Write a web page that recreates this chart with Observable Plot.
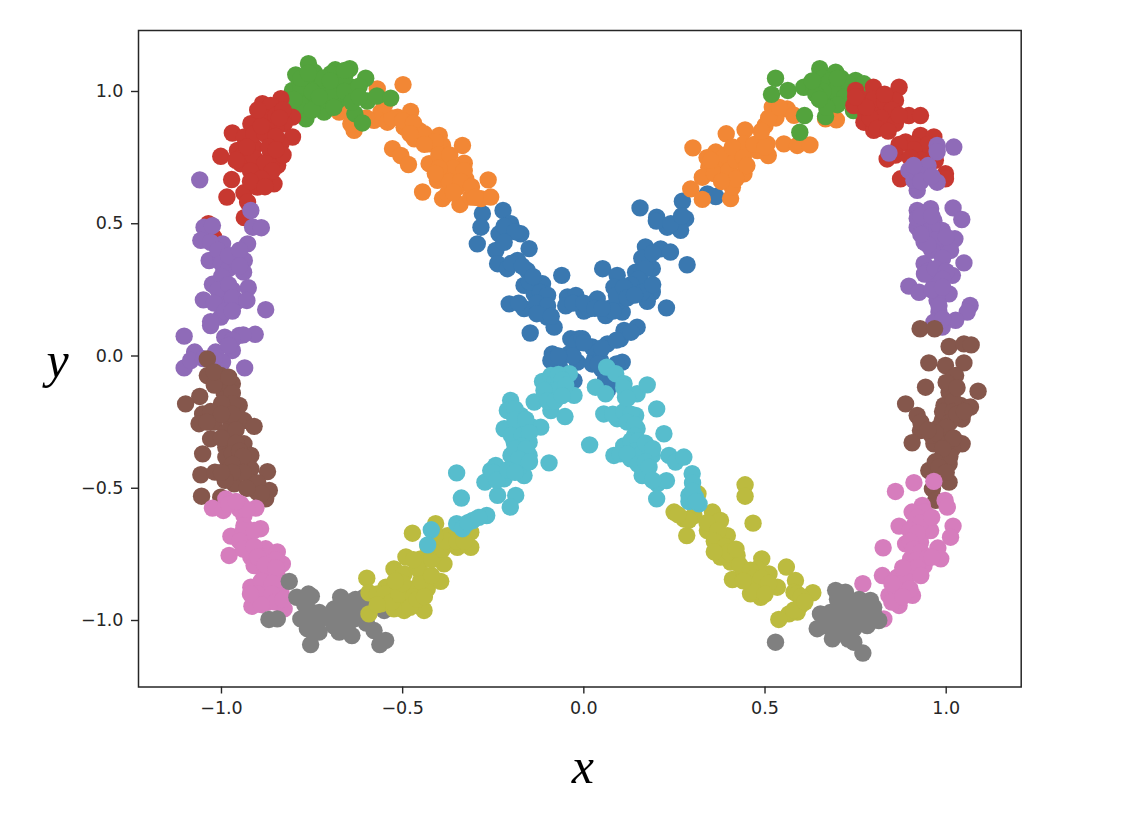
<!DOCTYPE html>
<html><head><meta charset="utf-8">
<script src="https://cdn.jsdelivr.net/npm/d3@7"></script>
<script src="https://cdn.jsdelivr.net/npm/@observablehq/plot@0.6"></script>
<style>html,body{margin:0;padding:0;background:#fff}svg{display:block}</style>
</head><body><div id="chart"></div>
<script>
const xTicks=[-1,-0.5,0,0.5,1];
const yTicks=[-1,-0.5,0,0.5,1];
const seriesColors=["#3a78b0","#f28735","#53a33d","#c73830","#8f6bb8","#85574c","#d67dbd","#808080","#bcbb3f","#57bdcd"];
const blue=[[-.280,.538],[-.284,.487],[-.294,.424],[-.223,.550],[-.202,.500],[-.174,.462],[-.234,.462],[-.151,.406],[-.243,.399],[-.183,.361],[-.238,.349],[-.211,.330],[-.156,.323],[-.165,.267],[-.114,.273],[-.061,.305],[-.137,.235],[-.206,.197],[-.165,.179],[-.114,.185],[-.045,.223],[-.022,.229],[-.101,.147],[-.082,.109],[-.148,.087],[-.036,.065],[-.013,.065],[-.087,.008],[-.041,.008],[0,.17],[-.091,-.017],[-.068,-.036],[-.027,-.093],[-.018,-.023],[-.02,.05],[.03,-.01],[-.03,0],[.05,-.05],[.341,.613],[.364,.603],[.272,.585],[.155,.560],[.201,.525],[.281,.519],[.258,.500],[.267,.475],[.230,.487],[.170,.412],[.212,.405],[.239,.393],[.285,.345],[.170,.361],[.189,.330],[.143,.317],[.052,.330],[.092,.305],[.157,.285],[.083,.260],[.189,.242],[.129,.248],[.175,.207],[.037,.216],[.228,.182],[.106,.216],[.106,.166],[.060,.153],[.014,.178],[.147,.109],[.111,.097],[.101,.065],[.065,.046],[.023,.034],[-.004,.065],[.106,-.023],[.023,-.030],[.046,-.017],[.069,-.086],[.065,-.130],
[-.22,.49],[-.19,.47],[-.22,.43],[-.20,.35],[-.17,.34],[-.15,.28],[-.14,.30],[-.12,.24],[-.10,.23],[-.13,.20],[-.10,.19],[-.13,.16],[-.09,.15],[-.18,.20],[-.05,.19],[-.03,.20],[0,.20],[.03,.18],[.07,.18],[.09,.20],[.09,.23],[.16,.37],[.17,.33],[.15,.29],[.13,.27],[.11,.26],[.12,.22],[.08,.17],[.05,.18],[.16,.24],[.14,.23],[.19,.27],[.19,.39],[.20,.51],[.24,.50],[.27,.53],[0,.05],[.05,.03],[.09,.06],[.04,-.03],[.07,-.05],[.09,-.03],[.06,-.09],[.07,-.11],[-.07,0],[.13,.09]];
const orange=[[-.499,1.026],[-.570,1.010],[-.675,.922],[-.634,.853],[-.643,.878],[-.579,.891],[-.560,.922],[-.542,.884],[-.514,.903],[-.478,.925],[-.496,.865],[-.455,.853],[-.468,.821],[-.427,.802],[-.399,.834],[-.390,.796],[-.335,.796],[-.528,.784],[-.505,.758],[-.484,.724],[-.427,.727],[-.381,.733],[-.330,.729],[-.358,.695],[-.326,.670],[-.264,.666],[-.404,.664],[-.445,.620],[-.390,.595],[-.376,.614],[-.342,.573],[-.312,.601],[-.284,.595],[-.257,.601],[-.349,.639],[-.386,.689],[.301,.787],[.295,.632],[.405,.595],[.393,.840],[.445,.855],[.364,.771],[.345,.714],[.327,.676],[.387,.727],[.396,.676],[.442,.689],[.410,.638],[.433,.764],[.442,.802],[.479,.777],[.509,.758],[.506,.802],[.552,.802],[.589,.796],[.624,.798],[.500,.871],[.520,.941],[.561,.934],[.667,.897],[.697,.893],[.327,.592],
[-.53,.90],[-.50,.89],[-.47,.88],[-.44,.84],[-.41,.81],[-.48,.84],[-.44,.80],[-.40,.76],[-.37,.76],[-.36,.71],[-.40,.71],[-.33,.70],[-.37,.66],[-.34,.66],[-.31,.64],[-.30,.60],[-.36,.62],[-.41,.69],[-.60,.90],[-.55,.95],
[.34,.75],[.37,.72],[.36,.69],[.39,.76],[.40,.70],[.42,.74],[.41,.79],[.44,.75],[.45,.72],[.42,.67],[.38,.66],[.35,.74],[.47,.80],[.50,.79],[.53,.90],[.51,.90],[.54,.94],[.58,.91],[.49,.85]];
const green=[[-.760,1.105],[-.795,1.063],[-.686,1.082],[-.646,1.086],[-.602,1.050],[-.804,1.004],[-.763,1.042],[-.726,1.017],[-.680,1.017],[-.643,1.017],[-.772,.979],[-.717,.922],[-.767,.897],[-.680,.966],[-.735,.960],[-.634,.998],[-.597,.964],[-.571,.983],[-.533,.975],[-.632,.916],[-.611,.881],[-.800,.928],[-.698,1.067],[-.661,1.054],[-.744,1.073],[-.707,.966],[-.781,1.017],[-.661,.979],[.529,1.050],[.518,.989],[.563,1.004],[.609,.909],[.596,.846],[.667,.905],[.607,1.016],[.651,1.086],[.695,1.073],[.635,1.016],[.672,1.029],[.709,1.016],[.750,1.042],[.773,1.029],[.672,.966],[.699,.979],[.744,.928],[.796,.985],
[-.78,.95],[-.75,1.0],[-.72,1.05],[-.70,.99],[-.66,1.0],[-.75,.93],[-.69,.94],[-.64,.96],[-.78,1.05],[-.80,.97],[-.73,.98],[-.62,1.02],[-.66,1.08],[-.76,1.07],[-.70,1.04],[-.62,.98],
[.66,1.05],[.68,1.04],[.69,1.0],[.66,1.0],[.64,.99],[.63,1.04],[.71,1.05],[.73,1.03],[.72,.98],[.70,.95],[.67,.94],[.65,.97],[.75,1.01],[.70,1.05]];
const red=[[-.836,.973],[-.887,.954],[-.864,.947],[-.804,.903],[-.827,.878],[-.804,.828],[-.970,.843],[-.919,.878],[-.882,.903],[-.850,.865],[-.937,.828],[-.864,.828],[-1.002,.755],[-.956,.777],[-.910,.790],[-.864,.765],[-.947,.727],[-.901,.714],[-.845,.721],[-.972,.667],[-.985,.601],[-.938,.617],[-.901,.639],[-.855,.651],[-.878,.682],[-.928,.582],[-.937,.523],[-1.036,.500],[-1.022,.450],[-.836,.802],[.750,1.004],[.799,1.016],[.870,1.016],[.745,.947],[.778,.915],[.773,.884],[.819,.941],[.860,.966],[.800,.853],[.837,.890],[.897,.909],[.929,.909],[.837,.745],[.888,.809],[.929,.834],[.966,.828],[.920,.764],[.948,.758],[.874,.670],[.998,.689],[.998,.670],
[-.91,.84],[-.88,.84],[-.85,.83],[-.83,.76],[-.94,.76],[-.91,.75],[-.88,.73],[-.86,.70],[-.92,.70],[-.89,.67],[-.87,.79],[-.89,.87],[-.85,.91],[-.83,.93],[-.93,.79],[-.85,.78],[-.96,.74],[-.92,.66],[-.88,.64],[-.84,.90],[-.90,.93],
[.77,.97],[.80,.97],[.83,.96],[.85,.93],[.82,.90],[.79,.90],[.86,.88],[.81,.86],[.87,.91],[.84,.85],[.78,.94],[.83,.99],[.75,.98],[.91,.80],[.95,.80],[.91,.78],[.97,.77],[.93,.74],[.97,.74],[.87,.80],[.86,.76],[.90,.75]];
const purple=[[-1.060,.666],[-.919,.550],[-.914,.487],[-.890,.485],[-1.048,.487],[-1.025,.493],[-1.057,.437],[-.997,.424],[-.928,.424],[-1.034,.361],[-1.002,.374],[-.956,.387],[-.937,.361],[-.993,.323],[-.939,.317],[-1.025,.271],[-.995,.286],[-.926,.258],[-1.050,.212],[-1.002,.223],[-.956,.208],[-.979,.191],[-.878,.175],[-1.002,.147],[-1.030,.115],[-1.103,.075],[-.991,.071],[-.951,.078],[-.907,.082],[-.970,.021],[-1.074,.015],[-1.016,.015],[-1.103,-.045],[-1.085,-.017],[-.936,-.045],[-.997,-.023],[.842,.767],[.975,.796],[1.021,.790],[.975,.772],[.897,.702],[.948,.702],[.975,.657],[.920,.626],[.911,.664],[.920,.550],[.957,.557],[1.019,.560],[1.043,.516],[.966,.512],[.920,.487],[.989,.475],[.939,.431],[1.024,.443],[.980,.412],[1.012,.399],[1.049,.352],[.939,.349],[1.017,.305],[.966,.286],[.897,.264],[.925,.241],[1.008,.235],[.975,.210],[.980,.166],[1.066,.191],[1.058,.166],[1.026,.135],[.966,.128],[.989,.109],[.948,.320],
[-1.03,.43],[-1.01,.40],[-1.0,.35],[-.98,.33],[-.96,.36],[-.98,.38],[-1.0,.30],[-1.01,.25],[-.97,.25],[-.98,.27],[-.97,.22],[-1.02,.20],[-.93,.21],[-.99,.17],[-.97,.17],[-1.03,.13],[-.94,.08],[-.97,.06],[-.98,.04],[-1.05,-.01],[-1.02,-.01],[-.95,.40],[-.95,.34],
[.94,.52],[.96,.49],[.94,.46],[.97,.44],[1.0,.45],[.96,.40],[.99,.37],[.94,.31],[.97,.33],[1.0,.32],[.99,.29],[.96,.25],[.99,.26],[.98,.19],[.99,.14],[.95,.72],[.92,.69],[.93,.66],[.96,.68],[.91,.72],[.92,.52],[.95,.42],[.93,.53],[.96,.53],[.93,.46]];
const brown=[[-1.039,-.011],[-1.039,-.074],[-1.002,-.074],[-.970,-.105],[-.993,-.137],[-1.060,-.153],[-1.099,-.181],[-.951,-.187],[-.988,-.200],[-1.052,-.219],[-1.062,-.256],[-1.020,-.250],[-.974,-.250],[-.938,-.244],[-.910,-.266],[-1.030,-.313],[-.988,-.288],[-.938,-.332],[-.988,-.345],[-1.052,-.370],[-.988,-.382],[-.919,-.376],[-.956,-.401],[-.919,-.427],[-.873,-.437],[-1.057,-.449],[-1.018,-.439],[-.988,-.458],[-.965,-.483],[-.919,-.477],[-.868,-.508],[-.901,-.515],[-.878,-.540],[-1.055,-.530],[-1.002,-.534],[.928,.103],[.968,.103],[1.008,.036],[1.049,.046],[1.069,.042],[.952,-.026],[.998,-.036],[1.049,-.026],[1.026,-.074],[.943,-.118],[1.008,-.137],[1.088,-.133],[.888,-.181],[.994,-.187],[1.040,-.187],[1.067,-.193],[.920,-.225],[.989,-.244],[1.044,-.238],[.929,-.282],[.994,-.300],[.906,-.328],[1.044,-.332],[.966,-.332],[1.017,-.351],[.989,-.382],[1.008,-.408],[.952,-.433],[.985,-.439],[1.008,-.477],[.962,-.502],[.971,-.546],
[-1.0,-.10],[-1.02,-.11],[-.97,-.14],[-.97,-.18],[-1.0,-.18],[-1.03,-.21],[-.97,-.22],[-1.0,-.22],[-1.04,-.25],[-.96,-.28],[-1.0,-.31],[-.96,-.33],[-.97,-.37],[-.95,-.36],[-.94,-.38],[-.97,-.41],[-.94,-.44],[-.97,-.44],[-.90,-.48],[-.89,-.52],[-.93,-.50],[-.99,-.47],[-1.0,-.44],[-1.02,-.06],[-.98,-.08],
[1.0,-.10],[1.02,-.17],[.99,-.21],[1.02,-.21],[1.01,-.25],[1.03,-.22],[.96,-.30],[.98,-.27],[1.0,-.27],[1.0,-.33],[.97,-.29],[1.02,-.31],[1.01,-.38],[.99,-.35],[.97,-.40],[.98,-.42],[1.0,-.44],[.93,-.25],[.95,-.28],[1.05,-.21],[1.03,-.12]];
const pink=[[-.988,-.540],[-1.025,-.575],[-.995,-.584],[-.947,-.559],[-.905,-.575],[-.938,-.603],[-.892,-.653],[-.938,-.641],[-.974,-.681],[-.928,-.691],[-.979,-.754],[-.878,-.729],[-.846,-.741],[-.919,-.760],[-.832,-.786],[-.910,-.792],[-.864,-.779],[-.882,-.830],[-.846,-.830],[-.919,-.874],[-.878,-.880],[-.836,-.893],[-.916,-.946],[-.873,-.931],[-.827,-.956],[.966,-.474],[.911,-.479],[.860,-.512],[.997,-.546],[1.003,-.571],[.934,-.565],[.906,-.590],[.948,-.616],[.870,-.643],[.911,-.641],[.957,-.660],[1.019,-.643],[1.012,-.685],[.826,-.725],[.888,-.710],[.929,-.704],[.977,-.726],[.985,-.767],[.902,-.767],[.939,-.792],[.824,-.830],[.865,-.836],[.897,-.823],[.770,-.861],[.842,-.905],[.907,-.905],[.870,-.943],[.828,-.994],[.874,-.868],
[-.95,-.58],[-.93,-.58],[-.94,-.66],[-.95,-.70],[-.91,-.66],[-.94,-.73],[-.91,-.72],[-.88,-.76],[-.90,-.76],[-.85,-.77],[-.88,-.79],[-.85,-.80],[-.89,-.85],[-.86,-.86],[-.90,-.90],[-.86,-.90],[-.85,-.93],[-.89,-.94],[-.92,-.90],[-.83,-.92],[-.98,-.56],[-.96,-.55],
[.94,-.59],[.92,-.61],[.93,-.63],[.90,-.66],[.92,-.67],[.90,-.70],[.91,-.73],[.93,-.74],[.92,-.77],[.95,-.76],[.96,-.76],[.90,-.80],[.87,-.86],[.89,-.84],[.86,-.88],[.90,-.88],[.85,-.93],[.88,-.91],[.92,-.80],[.93,-.83],[.85,-.86],[.88,-.80],[.96,-.61]];
const gray=[[-.813,-.852],[-.869,-.996],[-.846,-.994],[-.792,-.912],[-.752,-.908],[-.763,-.956],[-.781,-.994],[-.763,-1.031],[-.726,-.994],[-.754,-1.091],[-.731,-1.044],[-.689,-.956],[-.671,-.912],[-.643,-.943],[-.606,-.912],[-.680,-.994],[-.634,-.994],[-.675,-1.044],[-.640,-1.057],[-.579,-1.038],[-.547,-1.075],[-.563,-1.091],[-.551,-.962],[.695,-.886],[.722,-.893],[.791,-.924],[.764,-.937],[.653,-.975],[.704,-.956],[.755,-.981],[.801,-.981],[.814,-1.000],[.644,-1.031],[.686,-1.069],[.699,-1.044],[.745,-1.031],[.745,-1.082],[.770,-1.123],[.529,-1.082],[.782,-1.019],
[-.77,-.94],[-.75,-.97],[-.77,-.99],[-.75,-1.01],[-.74,-1.03],[-.70,-.98],[-.67,-.96],[-.66,-.97],[-.65,-1.01],[-.66,-1.03],[-.63,-.92],[-.69,-1.02],[-.61,-.95],[-.61,-.98],[-.60,-1.01],[-.73,-.97],[-.76,-.90],
[.70,-.92],[.72,-.93],[.72,-.97],[.74,-.96],[.68,-.97],[.67,-1.0],[.70,-.99],[.72,-1.0],[.77,-.96],[.78,-.95],[.78,-1.0],[.74,-1.0],[.69,-1.02],[.72,-1.04],[.76,-.92],[.80,-.95],[.66,-1.02],[.73,-1.07]];
const olive=[[-.599,-.840],[-.593,-.895],[-.593,-.975],[-.560,-.937],[-.546,-.874],[-.524,-.805],[-.496,-.824],[-.524,-.880],[-.496,-.918],[-.496,-.962],[-.441,-.962],[-.468,-.880],[-.432,-.880],[-.395,-.852],[-.450,-.817],[-.491,-.760],[-.450,-.767],[-.386,-.786],[-.404,-.741],[-.473,-.670],[-.409,-.634],[-.376,-.679],[-.312,-.723],[-.349,-.723],[-.312,-.666],[-.524,-.956],[.445,-.487],[.445,-.530],[.467,-.632],[.315,-.521],[.249,-.590],[.276,-.616],[.304,-.603],[.284,-.679],[.355,-.590],[.377,-.622],[.341,-.660],[.396,-.679],[.377,-.716],[.377,-.760],[.423,-.754],[.405,-.779],[.491,-.767],[.559,-.798],[.410,-.845],[.442,-.817],[.479,-.805],[.511,-.824],[.460,-.899],[.492,-.868],[.534,-.874],[.488,-.912],[.584,-.849],[.632,-.895],[.580,-.893],[.598,-.943],[.566,-.975],[.538,-.996],[.589,-.968],
[-.57,-.90],[-.55,-.90],[-.53,-.93],[-.51,-.90],[-.50,-.86],[-.52,-.85],[-.47,-.91],[-.48,-.95],[-.46,-.92],[-.45,-.85],[-.46,-.80],[-.44,-.91],[-.42,-.83],[-.42,-.77],[-.47,-.77],[-.43,-.72],[-.39,-.73],[-.38,-.70],[-.41,-.68],[-.35,-.70],[-.33,-.70],[-.57,-.94],
[.34,-.63],[.37,-.66],[.36,-.70],[.39,-.72],[.39,-.75],[.40,-.74],[.36,-.74],[.43,-.79],[.46,-.81],[.47,-.84],[.49,-.84],[.51,-.86],[.47,-.89],[.50,-.90],[.44,-.85],[.59,-.90],[.60,-.91],[.58,-.96],[.29,-.62],[.26,-.60],[.61,-.93],[.42,-.73]];
const cyan=[[-.421,-.657],[-.431,-.714],[-.351,-.634],[-.335,-.653],[-.307,-.622],[-.268,-.603],[-.338,-.537],[-.351,-.442],[-.273,-.477],[-.257,-.433],[-.243,-.414],[-.220,-.464],[-.238,-.527],[-.188,-.527],[-.203,-.571],[-.165,-.452],[-.096,-.404],[-.202,-.168],[-.211,-.206],[-.174,-.225],[-.220,-.275],[-.183,-.269],[-.142,-.269],[-.119,-.269],[-.192,-.326],[-.151,-.326],[-.201,-.376],[-.151,-.376],[-.174,-.414],[-.137,-.174],[-.091,-.206],[-.052,-.229],[-.114,-.096],[-.091,-.074],[-.040,-.067],[-.063,-.124],[-.027,-.149],[-.096,-.149],[.016,-.336],[.063,-.042],[.088,-.067],[.032,-.118],[.060,-.143],[.111,-.105],[.147,-.143],[.175,-.109],[.115,-.156],[.201,-.200],[.055,-.219],[.092,-.237],[.143,-.225],[.147,-.275],[.221,-.294],[.083,-.376],[.111,-.351],[.129,-.389],[.166,-.351],[.189,-.376],[.161,-.452],[.203,-.483],[.228,-.471],[.201,-.540],[.235,-.376],[.253,-.401],[.276,-.382],[.299,-.445],[.290,-.527],[.318,-.559],[.308,-.534],
[-.19,-.20],[-.19,-.24],[-.16,-.24],[-.20,-.30],[-.17,-.30],[-.15,-.29],[-.17,-.34],[-.19,-.35],[-.16,-.35],[-.18,-.39],[-.15,-.40],[-.25,-.44],[-.24,-.47],[-.21,-.43],[-.19,-.44],[-.08,-.10],[-.07,-.07],[-.06,-.09],[-.08,-.13],[-.05,-.11],[-.11,-.13],[-.10,-.17],[-.08,-.17],[-.06,-.15],[-.32,-.63],[-.29,-.61],
[.08,-.22],[.11,-.21],[.13,-.22],[.12,-.25],[.14,-.26],[.14,-.30],[.11,-.34],[.13,-.32],[.15,-.32],[.14,-.36],[.16,-.37],[.10,-.37],[.12,-.37],[.17,-.33],[.19,-.35],[.15,-.41],[.17,-.40],[.18,-.42],[.19,-.47],[.11,-.12],[.12,-.16],[.30,-.48],[.29,-.55],[.30,-.51],[.31,-.55]];
const series=[blue,orange,green,red,purple,brown,pink,gray,olive,cyan];
const points=series.flatMap((pts,i)=>pts.map(([x,y])=>({x,y,s:i})));
const axisColor="#262626";
const tickFont="DejaVu Sans";
const mathFont="Liberation Serif";
const fmt=d3.format(".1f");
const chart=Plot.plot({
  width:1128,height:814,
  marginLeft:138,marginRight:107.3,marginTop:30,marginBottom:127.5,
  style:{background:"#fff"},
  x:{domain:[-1.229,1.207]},
  y:{domain:[-1.2514,1.2306]},
  color:{type:"ordinal",domain:d3.range(10),range:seriesColors},
  marks:[
    Plot.dot(points,{x:"x",y:"y",fill:"s",r:8.7}),
    Plot.frame({stroke:axisColor,strokeWidth:1.5}),
    Plot.axisX(xTicks,{tickSize:7,tickPadding:8,tickFormat:fmt,fontSize:17.5,fontFamily:tickFont,fill:axisColor,stroke:axisColor,strokeWidth:1.4,label:null}),
    Plot.axisY(yTicks,{tickSize:7,tickPadding:8,tickFormat:fmt,fontSize:17.5,fontFamily:tickFont,fill:axisColor,stroke:axisColor,strokeWidth:1.4,label:null}),
    Plot.text(["x"],{frameAnchor:"bottom",dx:3,dy:96,fontSize:50,fontStyle:"italic",fontFamily:mathFont,fill:"#000"}),
    Plot.text(["y"],{frameAnchor:"left",dx:-92,dy:2,fontSize:50,fontStyle:"italic",fontFamily:mathFont,fill:"#000"})
  ]
});
document.getElementById("chart").appendChild(chart);
</script>
</body></html>
